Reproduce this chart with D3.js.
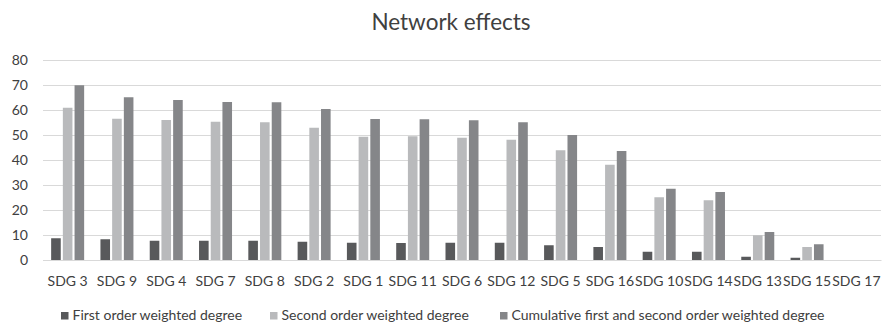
<!DOCTYPE html>
<html><head><meta charset="utf-8">
<script src="https://cdn.jsdelivr.net/npm/d3@7"></script>
<style>body{margin:0;background:#fff;} text{font-family:Lato,"Open Sans",sans-serif;}</style>
</head><body><svg id="c" width="882" height="324"></svg>
<script>
const categories = ["SDG 3","SDG 9","SDG 4","SDG 7","SDG 8","SDG 2","SDG 1","SDG 11","SDG 6","SDG 12","SDG 5","SDG 16","SDG 10","SDG 14","SDG 13","SDG 15","SDG 17"];
const firstOrder = [8.7,8.3,7.7,7.7,7.7,7.3,6.9,6.8,6.9,6.9,5.9,5.2,3.3,3.3,1.3,0.9,0];
const secondOrder = [60.9,56.5,56,55.3,55.1,52.9,49.3,49.5,48.9,48.1,43.9,38.1,25.1,23.9,9.9,5.2,0];
const cumulative = [69.9,65.1,64,63.2,63.1,60.4,56.4,56.3,55.9,55.1,50,43.6,28.5,27.2,11.2,6.3,0];
const seriesNames = ["First order weighted degree","Second order weighted degree","Cumulative first and second order weighted degree"];
const yTicks = [0,10,20,30,40,50,60,70,80];
const colors = ["#58595b","#b9babc","#858689"];

const svg = d3.select("#c");
const m = {l:43, r:881, t:60, b:260};
const x = d3.scaleBand().domain(categories).range([m.l, m.r]);
const y = d3.scaleLinear().domain([0,80]).range([m.b, m.t]);
const series = [firstOrder, secondOrder, cumulative];
const inner = d3.scaleBand().domain([0,1,2]).range([0, 33]).paddingInner(0.18);

svg.append("text").attr("x",451).attr("y",30).attr("text-anchor","middle")
  .attr("font-size",22.5).attr("fill","#404040").text("Network effects");

const yAxis = svg.append("g").attr("transform",`translate(${m.l},0)`)
  .call(d3.axisLeft(y).tickValues(yTicks).tickSize(-(m.r-m.l)).tickFormat(d3.format("d")));
yAxis.select(".domain").remove();
yAxis.selectAll(".tick line").attr("stroke","#d9d9d9").attr("stroke-width",1.2);
yAxis.selectAll(".tick text").attr("x",-15).attr("font-size",14).attr("fill","#404040");

const xAxis = svg.append("g").attr("transform",`translate(0,${m.b})`)
  .call(d3.axisBottom(x).tickSize(0).tickPadding(16));
xAxis.select(".domain").attr("stroke","#d9d9d9").attr("stroke-width",1.2);
xAxis.selectAll(".tick text").attr("font-size",14).attr("fill","#404040");

series.forEach((vals,si)=>{
  svg.append("g").selectAll("rect").data(vals).join("rect")
    .attr("x",(d,i)=>x(categories[i]) + (x.bandwidth()-33)/2 + inner(si))
    .attr("width",inner.bandwidth())
    .attr("y",d=>y(d))
    .attr("height",d=>y(0)-y(d))
    .attr("fill",colors[si]);
});

const leg = svg.append("g").attr("transform","translate(0,320)");
const lx = [61, 270, 500];
seriesNames.forEach((n,i)=>{
  leg.append("rect").attr("x",lx[i]).attr("y",-8).attr("width",7.5).attr("height",7.5).attr("fill",colors[i]);
  leg.append("text").attr("x",lx[i]+11.5).attr("y",0).attr("font-size",14).attr("fill","#404040").text(n);
});
</script></body></html>
